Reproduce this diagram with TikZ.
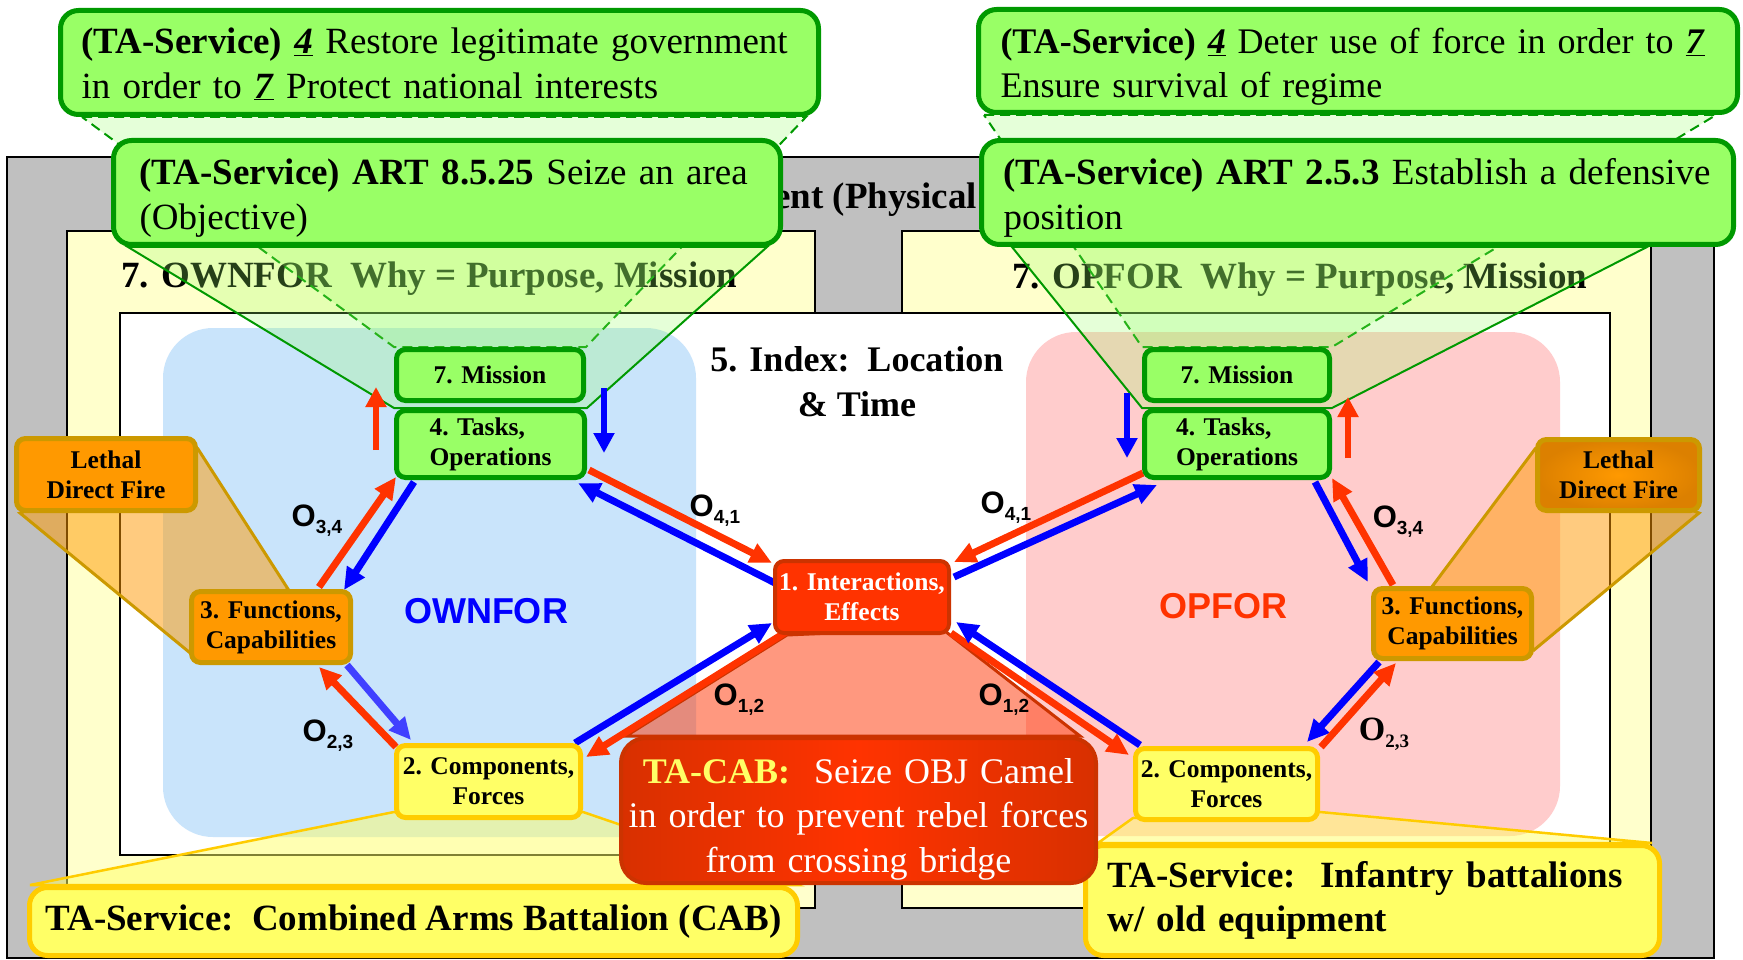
\documentclass[tikz,border=0pt]{standalone}
\usepackage{fontspec}
\setmainfont{Liberation Serif}
\newfontfamily\arialfont{Liberation Sans}
\usetikzlibrary{arrows.meta,calc,shadings}
\definecolor{bggray}{HTML}{C0C0C0}
\definecolor{pyellow}{HTML}{FFFFCC}
\definecolor{bluereg}{HTML}{C9E4FB}
\definecolor{pinkreg}{HTML}{FFCCCC}
\definecolor{gfill}{HTML}{99FF66}
\definecolor{gline}{HTML}{009900}
\definecolor{ofill}{HTML}{FF9900}
\definecolor{odark}{HTML}{DC8000}
\definecolor{oline}{HTML}{CC9900}
\definecolor{yfill}{HTML}{FFFF66}
\definecolor{yline}{HTML}{FFCC00}
\definecolor{rfill}{HTML}{FF3300}
\definecolor{rdark}{HTML}{D83000}
\definecolor{rline}{HTML}{CC3300}
\definecolor{arred}{HTML}{FF3300}
\definecolor{arblue}{HTML}{0000FF}
\definecolor{arlblue}{HTML}{4040FF}
\definecolor{tayel}{HTML}{FFFF66}
\newcommand\olab[2]{#1\raisebox{-0.22em}{\fontsize{19}{19}\selectfont #2}}
\newcommand\uul[1]{\underline{\textbf{\textit{#1}}}}
\newcommand\topstrut[1]{\rule{0pt}{#1}}
\pgfdeclarelayer{back}
\pgfdeclarelayer{mid}
\pgfsetlayers{back,mid,main}
\begin{document}
\begin{tikzpicture}[x=1pt,y=-1pt,
  nb/.style={draw, rounded corners=9pt, line width=5pt, align=center, inner sep=0pt,
    font=\fontsize{25.5}{30}\selectfont\bfseries},
  gnode/.style={nb, fill=gfill, draw=gline},
  onode/.style={nb, fill=ofill, draw=oline},
  ynode/.style={nb, fill=yfill, draw=yline},
  bigbox/.style={draw, rounded corners=18pt, line width=5pt, inner ysep=0pt,
    font=\fontsize{37}{44.5}\selectfont, align=left},
  gbig/.style={bigbox, fill=gfill, draw=gline, minimum height=104pt},
  ybig/.style={bigbox, fill=yfill, draw=yline},
  gcall/.style={fill=gfill, fill opacity=0.25, draw=gline, line width=2pt},
  gcalldash/.style={gcall, dash pattern=on 10pt off 6pt},
  ocall/.style={fill=ofill, fill opacity=0.5, draw=oline, line width=3pt},
  ycall/.style={fill=yfill, fill opacity=0.5, draw=yline, line width=2.5pt},
  rcall/.style={fill=rfill, fill opacity=0.5, draw=rline, line width=3pt},
  rarr/.style={draw=arred, line width=7pt, -{Triangle[length=22pt,width=20pt]}},
  barr/.style={draw=arblue, line width=7pt, -{Triangle[length=22pt,width=20pt]}},
  lbarr/.style={draw=arlblue, line width=7pt, -{Triangle[length=22pt,width=20pt]}},
  vred/.style={draw=arred, line width=6pt, -{Triangle[length=20pt,width=20pt]}},
  vblue/.style={draw=arblue, line width=6pt, -{Triangle[length=20pt,width=20pt]}},
  olabel/.style={font=\arialfont\bfseries\fontsize{31}{31}\selectfont, inner sep=0pt},
  headtxt/.style={font=\bfseries\fontsize{37}{44}\selectfont, inner sep=0pt},
  forcelab/.style={font=\arialfont\bfseries\fontsize{36}{36}\selectfont, inner sep=0pt}
]
\useasboundingbox (0,0) rectangle (1743,960);

% ---------- small nodes ----------
\node[gnode, minimum width=187pt, minimum height=51pt] (missionL) at (490,375) {7. Mission};
\node[gnode, minimum width=188pt, minimum height=67pt, align=left] (tasksL) at (490.5,444) {4. Tasks,\\Operations};
\node[onode, minimum width=159pt, minimum height=71pt] (funcL) at (271,627) {3. Functions,\\Capabilities};
\node[ynode, minimum width=184pt, minimum height=72pt] (compL) at (488.5,781.5) {2. Components,\\Forces};
\node[nb, fill=rfill, draw=rline, line width=4pt, text=white, minimum width=174pt, minimum height=72pt] (inter) at (862,597) {1. Interactions,\\Effects};
\node[onode, minimum width=179pt, minimum height=72pt] (lethalL) at (106,474.5) {Lethal\\Direct Fire};
\node[gnode, minimum width=185pt, minimum height=51pt] (missionR) at (1237,375) {7. Mission};
\node[gnode, minimum width=185pt, minimum height=67pt, align=left] (tasksR) at (1237,444) {4. Tasks,\\Operations};
\node[onode, minimum width=158pt, minimum height=70pt] (funcR) at (1452.5,623.5) {3. Functions,\\Capabilities};
\node[ynode, minimum width=182pt, minimum height=71pt] (compR) at (1226.5,784) {2. Components,\\Forces};
\node[onode, inner color=ofill, outer color=odark, minimum width=162pt, minimum height=71pt] (lethalR) at (1618.5,475) {Lethal\\Direct Fire};

% ---------- big boxes ----------
\node[gbig, text width=716pt, inner xsep=21pt] (topL) at (439.5,62.5)
  {\mbox{\topstrut{29pt}\textbf{(TA-Service)} \uul{4} Restore legitimate government}\\\mbox{in order to \uul{7} Protect national interests}};
\node[gbig, text width=615pt, inner xsep=26pt] (box2L) at (447,192.5)
  {\mbox{\topstrut{37pt}\textbf{(TA-Service) ART 8.5.25} Seize an area}\\\mbox{(Objective)}};
\node[gbig, font=\fontsize{36}{44.5}\selectfont, text width=715pt, inner xsep=22pt, minimum height=103pt] (topR) at (1358,61)
  {\mbox{\topstrut{37pt}\textbf{(TA-Service)} \uul{4} Deter use of force in order to \uul{7}}\\\mbox{Ensure survival of regime}};
\node[gbig, text width=708pt, inner xsep=22pt] (box2R) at (1357.5,192.5)
  {\mbox{\topstrut{37pt}\textbf{(TA-Service) ART 2.5.3} Establish a defensive}\\\mbox{position}};
\node[ybig, align=center, inner xsep=0pt, minimum width=768pt, minimum height=68pt] (bottomL) at (413.5,921.5)
  {\textbf{TA-Service:\ \ Combined Arms Battalion (CAB)}};
\node[ybig, text width=530pt, inner xsep=22pt, minimum height=110pt] (bottomR) at (1372.5,900.5)
  {\mbox{\textbf{TA-Service:\ \ Infantry battalions}}\\\mbox{\textbf{w/ old equipment}}};
\node[bigbox, font=\fontsize{36}{44.5}\selectfont, rounded corners=25pt, line width=4pt, draw=rline, left color=rdark, right color=rdark, middle color=rfill,
  text=white, align=center, text width=460pt, inner xsep=7.5pt, minimum height=145pt] (tacab) at (858.5,810.5)
  {\mbox{\topstrut{42pt}{\color{tayel}\textbf{TA-CAB:}}\ \ Seize OBJ Camel}\\\mbox{in order to prevent rebel forces}\\\mbox{from crossing bridge}};

% ---------- background ----------
\begin{pgfonlayer}{back}
  \filldraw[fill=bggray, draw=black, line width=1.5pt] (7,157) rectangle (1714,958);
  \filldraw[fill=pyellow, draw=black, line width=1.5pt] (67,231) rectangle (815,908);
  \filldraw[fill=pyellow, draw=black, line width=1.5pt] (902,231) rectangle (1651,908);
  \node[headtxt, anchor=east] (phys) at (977,200) {ent (Physical};
  \node[headtxt, anchor=west] (ownwhy) at (121,279) {7. OWNFOR\ \ Why = Purpose, Mission};
  \node[headtxt, anchor=west] (opwhy) at (1012,280) {7. OPFOR\ \ Why = Purpose, Mission};
  \filldraw[fill=white, draw=black, line width=1.5pt] (120,313) rectangle (1610,855);
  \fill[bluereg, rounded corners=50pt] (163,328) rectangle (696,837);
  \fill[pinkreg, rounded corners=50pt] (1026,332) rectangle (1560,836);
  \node[headtxt, align=center, font=\bfseries\fontsize{36}{45}\selectfont] (index) at (857,382) {5. Index:\ \ Location\\\& Time};
  \node[forcelab, text=arblue] (ownlab) at (486,611) {OWNFOR};
  \node[forcelab, text=arred] (oplab) at (1223,606) {OPFOR};
\end{pgfonlayer}

% ---------- callouts, arrows, labels ----------
\begin{pgfonlayer}{mid}
  \path[gcalldash] ($(topL.south west)+(24,0)$) -- ($(topL.south east)+(-15,0)$) -- (missionL.north east) -- (missionL.north west) -- cycle;
  \path[gcall] ($(box2L.south west)+(17,0)$) -- ($(box2L.south east)+(-16,0)$) -- (tasksL.north east) -- (tasksL.north west) -- cycle;
  \path[gcalldash] ($(topR.south west)+(8,0)$) -- ($(topR.south east)+(-24,0)$) -- (missionR.north east) -- (missionR.north west) -- cycle;
  \path[gcall] ($(box2R.south west)+(33,0)$) -- ($(box2R.south east)+(-89,0)$) -- (tasksR.north east) -- (tasksR.north west) -- cycle;
  \path[ocall] ($(lethalL.south west)+(6,0)$) -- ($(lethalL.north east)+(0,13)$) -- ($(funcL.north)+(17,0)$) -- ($(funcL.south west)+(0,-13)$) -- cycle;
  \path[ocall] ($(lethalR.north west)+(0,12)$) -- ($(lethalR.south east)+(-3,0)$) -- ($(funcR.south east)+(0,-11)$) -- ($(funcR.north)+(-20,0)$) -- cycle;
  \path[ycall] ($(compL.south west)+(0,-8)$) -- ($(compL.south east)+(0,-8)$) -- ($(bottomL.north east)+(-3,0)$) -- ($(bottomL.north west)+(3,0)$) -- cycle;
  \path[ycall] ($(compR.south west)+(0,-4)$) -- ($(compR.south east)+(0,-10)$) -- ($(bottomR.north east)+(-10,0)$) -- ($(bottomR.north west)+(15,0)$) -- cycle;
  \path[rcall] ($(inter.south west)+(14,0)$) -- ($(inter.south east)+(-10,-7)$) -- ($(tacab.north east)+(-18,0)$) -- ($(tacab.north west)+(7,0)$) -- cycle;

  % left side
  \draw[rarr] ($(funcL.north)+(48,-2)$) -- ($(tasksL.south west)+(2,-3)$);
  \draw[barr] ($(tasksL.south west)+(20,2)$) -- ($(funcL.north)+(73,1)$);
  \draw[rarr] ($(compL.north west)+(2,4)$) -- ($(funcL.south)+(48,2)$);
  \draw[lbarr] ($(funcL.south)+(76,0)$) -- ($(compL.north west)+(17,-3)$);
  \draw[rarr] ($(tasksL.south east)+(2,-10)$) -- ($(inter.north west)+(-1,4)$);
  \draw[barr] ($(inter.north west)+(2,24)$) -- ($(tasksL.south east)+(-9,3)$);
  \draw[barr] ($(compL.north east)+(-8,0)$) -- ($(inter.south west)+(-1,-12)$);
  \draw[rarr] ($(inter.south west)+(13,-3)$) -- ($(compL.north east)+(3,14)$);
  % right side
  \draw[rarr] ($(tasksR.south west)+(1,-7)$) -- ($(inter.north east)+(3,3)$);
  \draw[barr] ($(inter.north east)+(3,18)$) -- ($(tasksR.south west)+(15,5)$);
  \draw[barr] ($(tasksR.south east)+(-17,2)$) -- ($(funcR.north west)+(-3,-4)$);
  \draw[rarr] ($(funcR.north west)+(22,-1)$) -- ($(tasksR.south east)+(0,-2)$);
  \draw[barr] ($(funcR.south west)+(8,1)$) -- ($(compR.north east)+(-13,-4)$);
  \draw[rarr] ($(compR.north east)+(1,1)$) -- ($(funcR.south west)+(25,2)$);
  \draw[rarr] ($(inter.south east)+(0,-2)$) -- ($(compR.north west)+(-4,9)$);
  \draw[barr] ($(compR.north west)+(7,-1)$) -- ($(inter.south east)+(5,-13)$);
  % vertical arrows
  \draw[vred] ($(tasksL.north west)+(-18,42)$) -- ($(tasksL.north west)+(-18,-21)$);
  \draw[vblue] ($(tasksL.north east)+(17,-20)$) -- ($(tasksL.north east)+(17,45)$);
  \draw[vblue] ($(tasksR.north west)+(-15,-15)$) -- ($(tasksR.north west)+(-15,50)$);
  \draw[vred] ($(tasksR.north east)+(16,50)$) -- ($(tasksR.north east)+(16,-11)$);

  % labels
  \node[olabel] (o34L) at (317,521) {\olab{O}{3,4}};
  \node[olabel] (o41L) at (715,511) {\olab{O}{4,1}};
  \node[olabel] (o23L) at (328,736) {\olab{O}{2,3}};
  \node[olabel] (o12L) at (739,700) {\olab{O}{1,2}};
  \node[olabel] (o41R) at (1006,508) {\olab{O}{4,1}};
  \node[olabel] (o34R) at (1398,522) {\olab{O}{3,4}};
  \node[olabel] (o12R) at (1004,700) {\olab{O}{1,2}};
  \node[olabel, font=\bfseries\fontsize{34}{34}\selectfont] (o23R) at (1384,734) {\olab{O}{2,3}};
\end{pgfonlayer}
\end{tikzpicture}
\end{document}
